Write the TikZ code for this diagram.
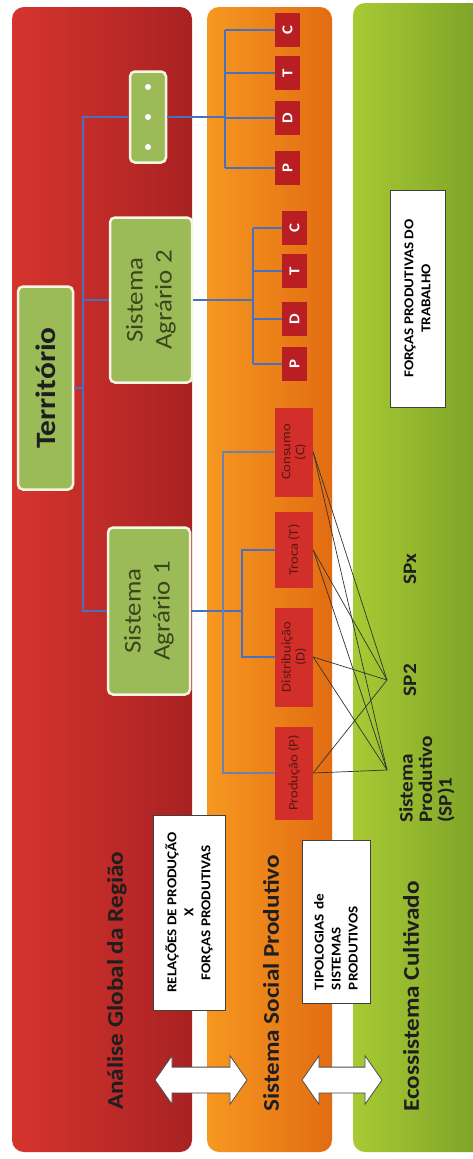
\documentclass[tikz,border=0pt]{standalone}
\usepackage{fontspec}
\setmainfont{Carlito}[FakeStretch=1.12]
\usetikzlibrary{
    positioning,
    shapes.arrows,
    calc
}

\definecolor{redL}{RGB}{214,52,46}
\definecolor{redR}{RGB}{168,34,34}
\definecolor{orangeL}{RGB}{246,152,32}
\definecolor{orangeR}{RGB}{226,108,18}
\definecolor{greenL}{RGB}{168,202,52}
\definecolor{greenR}{RGB}{118,156,38}
\definecolor{boxgreen}{RGB}{155,187,89}
\definecolor{boxrim}{RGB}{246,244,226}
\definecolor{linkblue}{RGB}{72,112,190}
\definecolor{linkgray}{RGB}{112,128,168}
\definecolor{fnred}{RGB}{210,46,42}
\definecolor{letterred}{RGB}{184,30,34}
\definecolor{darktext}{RGB}{30,30,30}
\definecolor{fntext}{RGB}{90,22,20}
\definecolor{olivetext}{RGB}{58,70,28}

\begin{document}
\begin{tikzpicture}[
    x=1pt, y=-1pt,
    sysbox/.style={
        rotate=90,
        rectangle,
        rounded corners=5pt,
        fill=boxgreen,
        draw=boxrim,
        line width=2.5pt,
        inner sep=0pt,
    },
    fnbox/.style={
        rotate=90,
        rectangle,
        fill=fnred,
        inner sep=0pt,
        minimum height=38pt,
        text=fntext,
        align=center,
        font=\fontsize{13}{14}\selectfont,
    },
    letterbox/.style={
        rotate=90,
        rectangle,
        fill=letterred,
        inner sep=0pt,
        minimum height=25pt,
        minimum width=34pt,
        text=white,
        font=\fontsize{15}{15}\selectfont\bfseries,
    },
    notebox/.style={
        rotate=90,
        rectangle,
        fill=white,
        draw=black!75,
        line width=1pt,
        inner sep=0pt,
        font=\fontsize{13.5}{17}\selectfont\bfseries,
    },
    title/.style={
        rotate=90,
        anchor=west,
        inner sep=0pt,
        text=darktext,
        font=\fontsize{22.5}{23}\selectfont\bfseries,
    },
    splabel/.style={
        rotate=90,
        inner sep=0pt,
        text=darktext,
        font=\fontsize{19}{19.5}\selectfont\bfseries,
    },
    twoway/.style={
        double arrow,
        fill=white,
        draw=black!70,
        line width=0.8pt,
        inner xsep=0pt,
        inner ysep=12.5pt,
        double arrow head extend=11.5pt,
        double arrow tip angle=110,
    },
    bluelink/.style={draw=linkblue, line width=1.6pt},
    graylink/.style={draw=linkgray, line width=1.4pt},
    sysline/.style={draw=black!80, line width=0.7pt},
]
    \useasboundingbox (0,0) rectangle (472,1159);

    % the three bands
    \path[rounded corners=12pt, left color=redL, right color=redR] (12,7) rectangle (192,1152);
    \path[rounded corners=12pt, left color=orangeL, right color=orangeR] (207,7) rectangle (332,1152);
    \path[rounded corners=12pt, left color=greenL, right color=greenR] (353,3) rectangle (500,1152);

    % agrarian systems
    \node[sysbox, minimum width=203pt, minimum height=55pt, text=darktext,
          font=\fontsize{28}{28}\selectfont\bfseries] (terr) at (45.5,388) {Território};
    \node[sysbox, minimum width=165pt, minimum height=82pt, text=olivetext, align=center,
          font=\fontsize{24}{29}\selectfont] (sa2) at (151,300) {Sistema\\Agrário 2};
    \node[sysbox, minimum width=167pt, minimum height=82pt, text=olivetext, align=center,
          font=\fontsize{24}{29}\selectfont] (sa1) at (149,611) {Sistema\\Agrário 1};
    \node[sysbox, minimum width=91pt, minimum height=36pt] (more) at (148,117) {};
    \foreach \dy in {-30,0,30}
        \fill[white] ($(more.center)+(0,\dy)$) circle (3pt);

    % functions of each system
    \node[fnbox, minimum width=89pt] (cons) at (294,452) {Consumo\\(C)};
    \node[fnbox, minimum width=76pt] (troca) at (294,550) {Troca (T)};
    \node[fnbox, minimum width=99pt] (dist) at (294,657) {Distribuição\\(D)};
    \node[fnbox, minimum width=93pt] (prod) at (294,773) {Produção (P)};

    \foreach \name/\lbl/\yy in {c2/C/228, t2/T/271, d2/D/319, p2/P/364}
        \node[letterbox] (\name) at (294.5,\yy) {\lbl};
    \foreach \name/\lbl/\yy in {c3/C/30, t3/T/73, d3/D/118, p3/P/168}
        \node[letterbox] (\name) at (287.5,\yy) {\lbl};

    % tree from the territory
    \coordinate (spine) at (83,0);
    \draw[bluelink] (more.north) -- (more.north -| spine) -- (sa1.north -| spine) -- (sa1.north);
    \draw[bluelink] (sa2.north) -- (sa2.north -| spine);
    \draw[bluelink] (terr.south) -- (terr.south -| spine);

    \coordinate (br1) at (242,0);
    \coordinate (bro) at (223,0);
    \draw[bluelink] (sa1.south) -- (sa1.south -| br1);
    \draw[bluelink] (troca.north) -- (troca.north -| br1) -- (dist.north -| br1) -- (dist.north);
    \draw[graylink] (cons.north) -- (cons.north -| bro) -- (prod.north -| bro) -- (prod.north);

    \coordinate (br2) at (253,0);
    \draw[bluelink] (sa2.south) -- (sa2.south -| br2);
    \draw[bluelink] (c2.north -| br2) -- (p2.north -| br2);
    \foreach \n in {c2,t2,d2,p2}
        \draw[bluelink] (\n.north -| br2) -- (\n.north);

    \coordinate (br3) at (225,0);
    \draw[bluelink, line width=2.6pt] (more.south) -- (more.south -| br3);
    \draw[bluelink] (c3.north -| br3) -- (p3.north -| br3);
    \foreach \n in {c3,t3,d3,p3}
        \draw[bluelink] (\n.north -| br3) -- (\n.north);

    % productive systems
    \coordinate (sp2) at (387,680);
    \coordinate (sp1) at (387,770);
    \foreach \n in {cons,troca,dist,prod} {
        \draw[sysline] (\n.south) -- (sp1);
        \draw[sysline] (\n.south) -- (sp2);
    }
    \node[splabel, anchor=west, align=left] (sp1lbl) at (427,823) {Sistema\\Produtivo\\(SP)1};
    \node[splabel] (sp2lbl) at (410,680) {SP2};
    \node[splabel] (spxlbl) at (410,569) {SPx};

    % notes
    \node[notebox, minimum width=217pt, minimum height=55pt, align=center] (forcas)
        at (417.5,298.5) {FORÇAS PRODUTIVAS DO\\TRABALHO};
    \node[notebox, minimum width=195pt, minimum height=72pt, align=center] (relacoes)
        at (189,912.5) {RELAÇÕES DE PRODUÇÃO\\X\\FORÇAS PRODUTIVAS};
    \node[notebox, minimum height=68pt, inner xsep=13pt, text width=137pt, align=left] (tipologias)
        at (336,921.5) {TIPOLOGIAS de\\SISTEMAS\\PRODUTIVOS};

    % band titles
    \node[title] (analise) at (117,1110) {Análise Global da Região};
    \node[title] (social) at (271,1112) {Sistema Social Produtivo};
    \node[title] (ecos) at (411,1112) {Ecossistema Cultivado};

    \node[twoway, minimum height=92pt] (arr1) at (201,1080) {};
    \node[twoway, minimum height=80pt] (arr2) at (342,1080) {};

\end{tikzpicture}
\end{document}
